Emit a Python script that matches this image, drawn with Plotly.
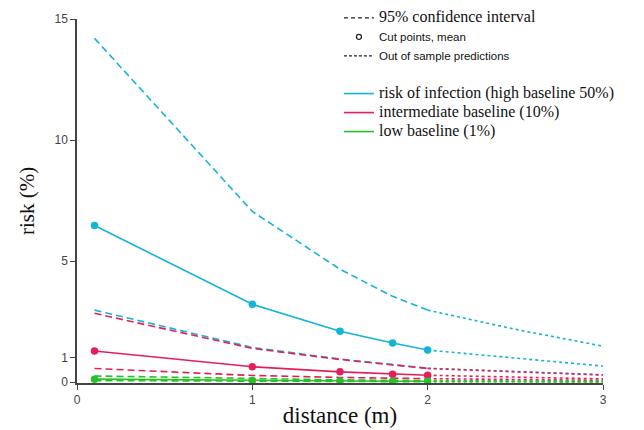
import plotly.graph_objects as go

# ---------------- data ----------------
x_in = [0.1, 1.0, 1.5, 1.8, 2.0]
x_out = [2.0, 2.5, 3.0]

high_mean = [6.47, 3.21, 2.10, 1.61, 1.32]
high_upper = [14.2, 7.05, 4.66, 3.54, 2.97]
high_lower = [2.97, 1.43, 0.95, 0.74, 0.57]
high_mean_out = [1.32, 0.98, 0.66]
high_upper_out = [2.97, 2.18, 1.48]
high_lower_out = [0.57, 0.42, 0.30]

mid_mean = [1.28, 0.63, 0.42, 0.32, 0.28]
mid_upper = [2.84, 1.39, 0.93, 0.72, 0.56]
mid_lower = [0.56, 0.27, 0.19, 0.16, 0.14]
mid_mean_out = [0.28, 0.20, 0.13]
mid_upper_out = [0.56, 0.41, 0.29]
mid_lower_out = [0.14, 0.10, 0.07]

low_mean = [0.12, 0.06, 0.045, 0.035, 0.03]
low_upper = [0.25, 0.13, 0.09, 0.07, 0.06]
low_lower = [0.06, 0.03, 0.02, 0.015, 0.012]
low_mean_out = [0.03, 0.022, 0.015]
low_upper_out = [0.06, 0.045, 0.03]
low_lower_out = [0.012, 0.009, 0.006]

x_ticks = [0, 1, 2, 3]
y_ticks = [0, 1, 5, 10, 15]

legend_style_names = ["95% confidence interval", "Cut points, mean", "Out of sample predictions"]
legend_color_names = ["risk of infection (high baseline 50%)", "intermediate baseline (10%)", "low baseline (1%)"]

CYAN = "#14b4d6"
PINK = "#e51e5a"
GREEN = "#27c227"

CI_DASH = "7px,4px"
OUT_DASH = "3px,3px"

fig = go.Figure()

series = [
    (CYAN, high_mean, high_upper, high_lower, high_mean_out, high_upper_out, high_lower_out),
    (PINK, mid_mean, mid_upper, mid_lower, mid_mean_out, mid_upper_out, mid_lower_out),
    (GREEN, low_mean, low_upper, low_lower, low_mean_out, low_upper_out, low_lower_out),
]

for color, m, u, l, mo, uo, lo in series:
    for yy in (u, l):
        fig.add_trace(go.Scatter(x=x_in, y=yy, mode="lines", showlegend=False,
                                 line=dict(color=color, width=1.6, dash=CI_DASH)))
    for yy in (uo, lo, mo):
        fig.add_trace(go.Scatter(x=x_out, y=yy, mode="lines", showlegend=False,
                                 line=dict(color=color, width=1.6, dash=OUT_DASH)))
    fig.add_trace(go.Scatter(x=x_in, y=m, mode="lines+markers", showlegend=False,
                             line=dict(color=color, width=1.6),
                             marker=dict(color=color, size=7.5), cliponaxis=False))

# ---------------- legends ----------------
serif = "Liberation Serif, Times New Roman, serif"
narrow = "Liberation Sans Narrow, Arial Narrow, Liberation Sans, sans-serif"

fig.add_trace(go.Scatter(x=[None], y=[None], mode="lines", legend="legend",
                         name=f'<span style="font-family:{serif};font-size:16px">{legend_style_names[0]}</span>',
                         line=dict(color="#222", width=1.3, dash="4px,3px")))
fig.add_trace(go.Scatter(x=[None], y=[None], mode="markers", legend="legend",
                         name=f'<span style="font-family:{narrow};font-size:11.5px">{legend_style_names[1]}</span>',
                         marker=dict(color="#222", size=5, symbol="circle-open", line=dict(width=1.3))))
fig.add_trace(go.Scatter(x=[None], y=[None], mode="lines", legend="legend",
                         name=f'<span style="font-family:{narrow};font-size:11.5px">{legend_style_names[2]}</span>',
                         line=dict(color="#222", width=1.3, dash="3px,2px")))

for name, color in zip(legend_color_names, [CYAN, PINK, GREEN]):
    fig.add_trace(go.Scatter(x=[None], y=[None], mode="lines", legend="legend2",
                             name=f'<span style="font-family:{serif};font-size:16px">{name}</span>',
                             line=dict(color=color, width=1.6)))

# The page body adds an 8px offset, so the figure is 8px smaller and margins shifted.
fig.update_layout(
    width=636, height=422,
    margin=dict(l=69, r=41, t=11, b=47, autoexpand=False),
    paper_bgcolor="white", plot_bgcolor="white",
    font=dict(family="Liberation Sans, Arial, sans-serif", color="#222"),
    legend=dict(x=0.498, y=1.043, xanchor="left", yanchor="top",
                bgcolor="rgba(0,0,0,0)", font=dict(size=11, color="#111"),
                itemwidth=30, tracegroupgap=0),
    legend2=dict(x=0.498, y=0.835, xanchor="left", yanchor="top",
                 bgcolor="rgba(0,0,0,0)", font=dict(size=12, color="#111"),
                 itemwidth=30, tracegroupgap=0),
    xaxis=dict(range=[0, 3], tickvals=x_ticks, ticktext=[str(v) for v in x_ticks],
               showgrid=False, zeroline=False, showline=True, linecolor="#444", linewidth=1.5,
               ticks="outside", ticklen=5, tickcolor="#444", tickwidth=1.2,
               tickfont=dict(size=12, color="#444"), automargin=False,
               title=dict(text="distance (m)\u00a0\u00a0\u00a0",
                          font=dict(family=serif, size=23, color="#111"), standoff=1)),
    yaxis=dict(range=[-0.04, 15], tickvals=y_ticks, ticktext=[str(v) for v in y_ticks],
               showgrid=False, zeroline=False, showline=True, linecolor="#444", linewidth=1.5,
               ticks="outside", ticklen=5, tickcolor="#444", tickwidth=1.2,
               tickfont=dict(size=12, color="#444"), automargin=False,
               title=dict(text="risk (%)", font=dict(family=serif, size=21, color="#111"), standoff=14)),
)

fig.write_html("out.html")
